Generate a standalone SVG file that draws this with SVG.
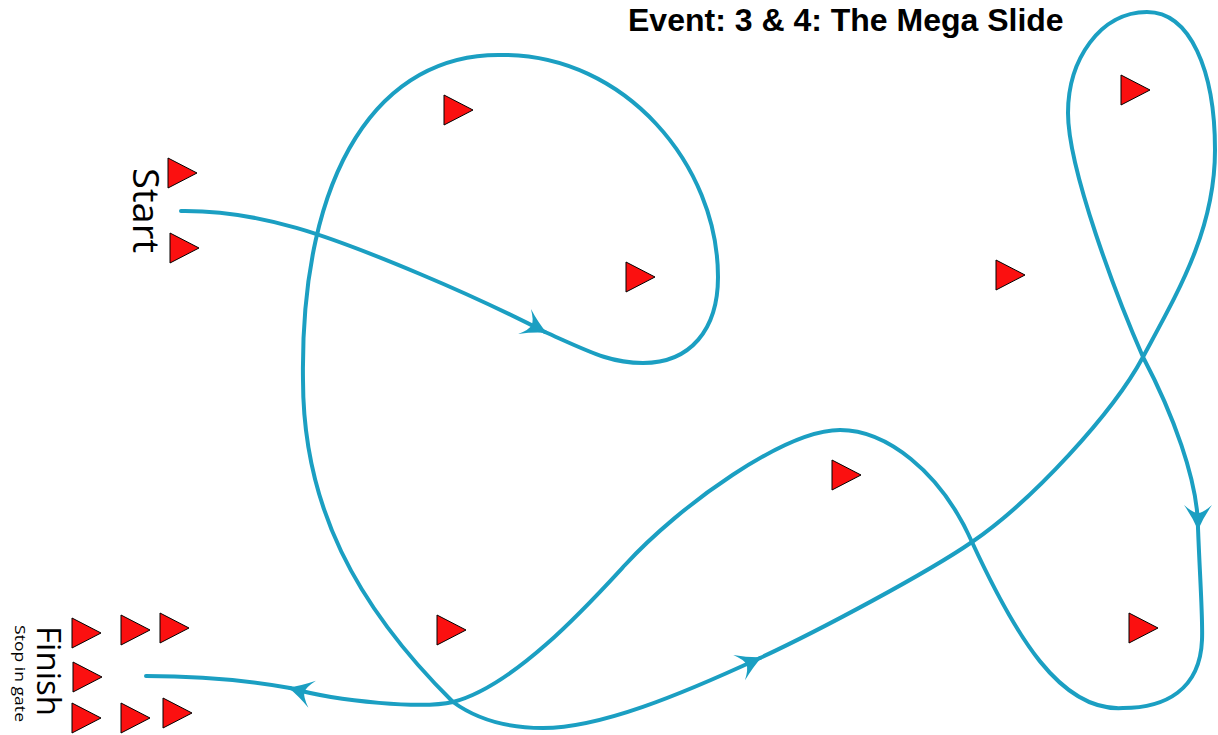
<svg xmlns="http://www.w3.org/2000/svg" xmlns:xlink="http://www.w3.org/1999/xlink" width="1218" height="735" viewBox="0 0 1218 735">
<style>
.track{fill:none;stroke:#1b9fc2;stroke-width:4;stroke-linecap:round;stroke-linejoin:round}
.cone{fill:#fb1010;stroke:#000;stroke-width:1;stroke-linejoin:miter}
.lbl{font-family:"Open Sans","DejaVu Sans",sans-serif;fill:#000}
.title{font-family:"Liberation Sans",Arial,sans-serif;font-weight:bold;font-size:32px;fill:#000}
</style>
<defs>
<polygon id="cone" class="cone" points="0,0 0,30 29,15"/>
<marker id="arr" markerUnits="userSpaceOnUse" viewBox="-30 -18 34 36" refX="0" refY="0" markerWidth="34" markerHeight="36" orient="auto">
<path d="M2,0 Q-10,-5 -23,-14 Q-15,-5 -15,0 Q-15,5 -23,14 Q-10,5 2,0 Z" fill="#1b9fc2"/>
</marker>
</defs>
<rect width="1218" height="735" fill="#fff"/>
<text class="title" x="628" y="31">Event: 3 &amp; 4: The Mega Slide</text>
<g id="connectors">
<path class="track" marker-end="url(#arr)" d="M181,211 C260,210 330,236 420,274 C470,295 510,314 545,332"/>
<path class="track" marker-end="url(#arr)" d="M545,332 C590,352 610,363 643,363 C690,363 718,330 718,277 C718,165 625,55 503,55 C380,52 300,170 303,380 C303,505 355,605 453,702 C475,718 505,728 543,728 C600,728 680,695 760,658"/>
<path class="track" marker-end="url(#arr)" d="M760,658 C820,630 927,573 972,542 C1032,501 1113,413 1143,357 C1178,292 1215,230 1215,150 C1215,70 1190,12 1147,12 C1100,12 1068,60 1068,113 C1068,170 1118,300 1143,357 C1172,412 1198,480 1198,528"/>
<path class="track" marker-end="url(#arr)" d="M1198,528 C1200,580 1203,620 1202,640 C1200,690 1165,708 1123,708 C1060,712 1015,635 972,542 C940,470 885,430 840,430 C785,430 680,505 625,565 C590,603 515,686 453,702 C423,709 340,702 290,688"/>
<path class="track" d="M290,688 C240,679 190,676 146,676"/>
</g>
<g id="start-label"><text class="lbl" font-size="36" transform="translate(133,168) rotate(90)" textLength="85" lengthAdjust="spacingAndGlyphs">Start</text></g>
<g id="finish-label"><text class="lbl" font-size="32" transform="translate(37,626) rotate(90)" textLength="90" lengthAdjust="spacingAndGlyphs">Finish</text>
<text class="lbl" font-size="14.5" transform="translate(15,625) rotate(90)" textLength="97" lengthAdjust="spacingAndGlyphs">Stop in gate</text></g>
<g id="cone-start-1"><use xlink:href="#cone" x="168" y="158"/></g>
<g id="cone-start-2"><use xlink:href="#cone" x="170" y="233"/></g>
<g id="cone-3"><use xlink:href="#cone" x="444" y="95"/></g>
<g id="cone-4"><use xlink:href="#cone" x="626" y="262"/></g>
<g id="cone-5"><use xlink:href="#cone" x="996" y="260"/></g>
<g id="cone-6"><use xlink:href="#cone" x="1121" y="75"/></g>
<g id="cone-7"><use xlink:href="#cone" x="832" y="460"/></g>
<g id="cone-8"><use xlink:href="#cone" x="1129" y="613"/></g>
<g id="cone-9"><use xlink:href="#cone" x="437" y="615"/></g>
<g id="cone-finish-1"><use xlink:href="#cone" x="72" y="618"/></g>
<g id="cone-finish-2"><use xlink:href="#cone" x="121" y="615"/></g>
<g id="cone-finish-3"><use xlink:href="#cone" x="160" y="613"/></g>
<g id="cone-finish-4"><use xlink:href="#cone" x="73" y="662"/></g>
<g id="cone-finish-5"><use xlink:href="#cone" x="72" y="703"/></g>
<g id="cone-finish-6"><use xlink:href="#cone" x="121" y="703"/></g>
<g id="cone-finish-7"><use xlink:href="#cone" x="163" y="698"/></g>
</svg>
